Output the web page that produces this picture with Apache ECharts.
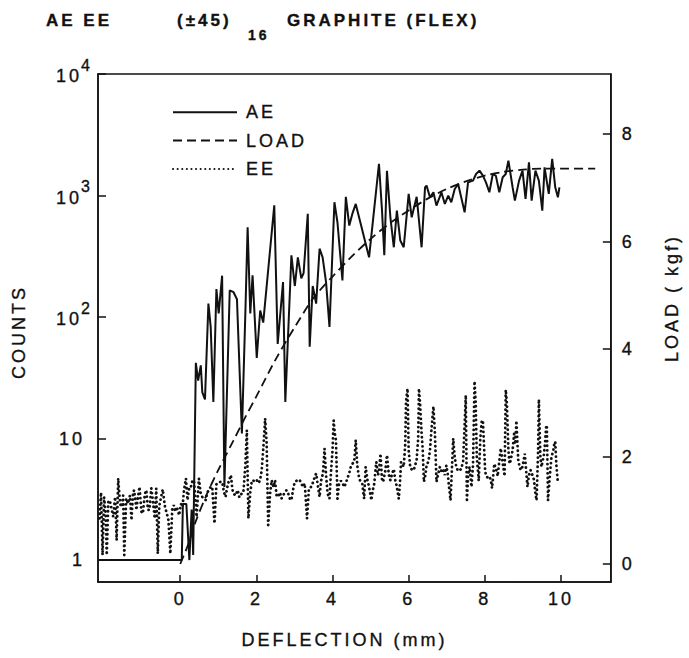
<!DOCTYPE html>
<html>
<head>
<meta charset="utf-8">
<title>AE EE (±45)16 GRAPHITE (FLEX)</title>
<script src="https://cdn.jsdelivr.net/npm/echarts@6/dist/echarts.min.js"></script>
<style>
  html, body { margin: 0; padding: 0; background: #fff; }
  #main { width: 689px; height: 658px; }
  /* the old plot lettering is widely spaced */
  #main text { letter-spacing: 3px; }
</style>
</head>
<body>
<div id="main"></div>
<script>
// deflection (mm) , counts -- acoustic emission
var aePoints = [
  [-2.16, 1], [-1.0, 1], [0.04, 1], [0.07, 2.9], [0.16, 2.9], [0.24, 1], [0.30, 2.6], [0.34, 1.1],
  [0.41, 42], [0.47, 30], [0.54, 40], [0.58, 24], [0.65, 21], [0.74, 129], [0.80, 83], [0.87, 20],
  [0.95, 170], [1.01, 107], [1.10, 219], [1.16, 4], [1.30, 166], [1.40, 160], [1.49, 140], [1.62, 11],
  [1.71, 107], [1.77, 549], [1.84, 107], [1.90, 220], [2.01, 46], [2.10, 113], [2.18, 90], [2.47, 830],
  [2.56, 60], [2.70, 194], [2.76, 20], [2.92, 322], [3.01, 180], [3.09, 310], [3.18, 208], [3.24, 230],
  [3.35, 708], [3.40, 57], [3.48, 180], [3.57, 129], [3.66, 365], [3.74, 310], [3.83, 194], [3.92, 83],
  [4.05, 880], [4.13, 600], [4.26, 200], [4.35, 975], [4.44, 566], [4.52, 706], [4.61, 853], [4.74, 585],
  [4.96, 310], [5.22, 1820], [5.30, 751], [5.36, 322], [5.43, 1600], [5.52, 662], [5.61, 375], [5.69, 751],
  [5.78, 426], [5.87, 375], [6.00, 1030], [6.08, 662], [6.21, 975], [6.34, 375], [6.43, 1167], [6.47, 1206],
  [6.56, 967], [6.65, 1063], [6.73, 826], [6.86, 1063], [6.95, 853], [7.04, 998], [7.12, 880], [7.21, 1132],
  [7.30, 1245], [7.47, 728], [7.56, 1284], [7.69, 1325], [7.77, 1503], [7.86, 1602], [7.95, 1458], [8.03, 1284],
  [8.12, 1063], [8.21, 1503], [8.29, 1458], [8.38, 1063], [8.47, 1413], [8.55, 1503], [8.62, 1936], [8.73, 1169],
  [8.79, 908], [8.90, 1325], [8.99, 1602], [9.07, 937], [9.16, 1875], [9.23, 908], [9.33, 1602], [9.42, 1325],
  [9.51, 751], [9.57, 1706], [9.68, 1030], [9.77, 2000], [9.85, 1169], [9.92, 967], [9.96, 1169]
];

// deflection (mm) , load (kgf)
var loadPoints = [
  [0, 0], [0.2, 0.35], [0.4, 0.78], [0.7, 1.3], [1.0, 1.75], [1.4, 2.3], [1.7, 2.72], [2.0, 3.12],
  [2.5, 3.8], [3.0, 4.4], [3.5, 4.95], [4.0, 5.35], [4.5, 5.72], [5.0, 6.05], [5.5, 6.34], [6.0, 6.58],
  [6.5, 6.8], [7.0, 6.98], [7.5, 7.12], [8.0, 7.23], [8.5, 7.3], [9.0, 7.34], [9.5, 7.36], [10.0, 7.36],
  [10.9, 7.36]
];

// deflection (mm) , counts -- exo-electron emission
var eePoints = [
  [-2.12, 2.2], [-2.08, 3.6], [-2.04, 1.1], [-2.0, 3.3], [-1.96, 2.4], [-1.93, 1.1], [-1.89, 3.0], [-1.85, 3.1],
  [-1.80, 2.6], [-1.76, 2.27], [-1.71, 3.3], [-1.67, 1.46], [-1.63, 4.7], [-1.58, 2.9], [-1.54, 2.74], [-1.50, 3.4],
  [-1.47, 1.1], [-1.42, 3.2], [-1.37, 2.92], [-1.32, 3.4], [-1.28, 2.13], [-1.24, 3.6], [-1.21, 3.76], [-1.15, 2.58],
  [-1.11, 3.3], [-1.07, 4.0], [-1.02, 2.5], [-0.98, 2.42], [-0.93, 3.5], [-0.89, 3.76], [-0.85, 2.6], [-0.81, 2.58],
  [-0.76, 3.9], [-0.72, 3.11], [-0.67, 2.2], [-0.63, 3.88], [-0.59, 1.13], [-0.55, 2.8], [-0.52, 3.11], [-0.46, 3.82],
  [-0.40, 2.74], [-0.35, 2.4], [-0.31, 2.13], [-0.26, 1.13], [-0.21, 2.6], [-0.17, 2.83], [-0.13, 2.5], [-0.09, 2.74],
  [-0.03, 2.34], [0.02, 2.9], [0.06, 2.74], [0.10, 3.8], [0.15, 4.69], [0.19, 3.11], [0.24, 4.0], [0.28, 4.0],
  [0.32, 4.5], [0.36, 4.54], [0.43, 2.27], [0.49, 4.69], [0.54, 3.5], [0.58, 3.31], [0.63, 3.2], [0.67, 3.11],
  [0.71, 3.6], [0.75, 3.76], [0.80, 4.0], [0.84, 4.0], [0.90, 2.0], [0.95, 4.2], [1.01, 4.27], [1.05, 4.4],
  [1.10, 4.4], [1.15, 3.6], [1.19, 3.31], [1.23, 3.9], [1.27, 4.4], [1.33, 5.0], [1.37, 3.8], [1.40, 3.53],
  [1.45, 3.4], [1.51, 3.76], [1.55, 3.3], [1.58, 3.31], [1.62, 3.6], [1.66, 3.64], [1.71, 6.0], [1.75, 11.7],
  [1.79, 2.2], [1.84, 3.6], [1.88, 4.5], [1.91, 4.54], [1.96, 4.4], [2.01, 4.54], [2.06, 4.3], [2.10, 4.6],
  [2.14, 5.49], [2.19, 9.0], [2.23, 14.6], [2.27, 9.1], [2.31, 1.94], [2.36, 3.5], [2.40, 4.54], [2.45, 4.0],
  [2.49, 4.54], [2.53, 3.4], [2.57, 3.31], [2.62, 3.6], [2.66, 3.21], [2.70, 3.4], [2.75, 3.6], [2.79, 3.76],
  [2.84, 3.5], [2.88, 3.2], [2.92, 3.11], [2.97, 3.9], [3.01, 4.4], [3.06, 4.5], [3.10, 4.6], [3.14, 4.54],
  [3.19, 4.2], [3.23, 4.0], [3.27, 4.27], [3.33, 2.2], [3.38, 3.9], [3.44, 4.0], [3.48, 4.3], [3.53, 4.8],
  [3.57, 5.15], [3.61, 4.2], [3.66, 3.31], [3.70, 4.5], [3.75, 5.2], [3.79, 8.27], [3.83, 5.0], [3.87, 3.53],
  [3.92, 3.2], [3.96, 5.3], [4.00, 8.0], [4.03, 14.1], [4.06, 11.0], [4.09, 9.7], [4.13, 3.2], [4.17, 4.2],
  [4.22, 4.5], [4.26, 4.3], [4.31, 4.0], [4.35, 4.3], [4.39, 4.69], [4.44, 5.2], [4.48, 5.85], [4.52, 6.2],
  [4.57, 6.42], [4.61, 9.7], [4.65, 6.0], [4.70, 4.69], [4.74, 4.4], [4.78, 4.27], [4.83, 3.2], [4.87, 5.85],
  [4.92, 4.5], [4.96, 4.0], [5.02, 3.11], [5.06, 3.8], [5.09, 4.1], [5.15, 6.42], [5.19, 5.0], [5.22, 5.3],
  [5.26, 7.5], [5.30, 4.6], [5.33, 4.4], [5.39, 5.5], [5.43, 7.3], [5.48, 5.0], [5.52, 4.54], [5.57, 5.2],
  [5.61, 5.6], [5.65, 4.5], [5.69, 4.0], [5.74, 3.2], [5.77, 4.2], [5.80, 6.42], [5.87, 5.85], [5.91, 9.0],
  [5.93, 20], [5.97, 25.8], [6.00, 8.0], [6.04, 5.85], [6.09, 5.5], [6.13, 5.5], [6.17, 6.0], [6.21, 6.7],
  [6.25, 10], [6.27, 25.8], [6.30, 19.4], [6.34, 11], [6.37, 8.0], [6.40, 4.4], [6.44, 5.0], [6.47, 6.0],
  [6.52, 6.5], [6.56, 8.0], [6.60, 12], [6.65, 18.4], [6.69, 11], [6.73, 4.4], [6.77, 5.0], [6.82, 5.85],
  [6.87, 5.3], [6.91, 5.5], [6.95, 5.0], [6.99, 6.0], [7.03, 5.0], [7.06, 4.0], [7.10, 3.1], [7.14, 6.0],
  [7.17, 10], [7.21, 7.0], [7.25, 5.85], [7.30, 5.4], [7.34, 5.5], [7.38, 5.6], [7.43, 6.5], [7.47, 13],
  [7.50, 22.7], [7.53, 3.0], [7.56, 5.0], [7.60, 5.85], [7.65, 4.0], [7.69, 6.0], [7.73, 29.6], [7.76, 20],
  [7.79, 7.0], [7.84, 4.5], [7.88, 9.7], [7.92, 14], [7.95, 14.1], [8.01, 5.3], [8.06, 4.8], [8.12, 4.9],
  [8.16, 4.5], [8.19, 3.9], [8.25, 6.2], [8.30, 5.5], [8.34, 4.9], [8.38, 6.5], [8.42, 8.3], [8.48, 6.0],
  [8.52, 4.9], [8.55, 25.2], [8.58, 19.4], [8.62, 8.0], [8.65, 6.2], [8.68, 6.6], [8.73, 8.0], [8.77, 11],
  [8.80, 9.0], [8.83, 14], [8.88, 6.5], [8.94, 5.5], [8.99, 5.85], [9.05, 7.5], [9.12, 4.0], [9.16, 5.0],
  [9.20, 5.5], [9.25, 5.0], [9.29, 4.6], [9.33, 3.5], [9.36, 3.1], [9.40, 8.0], [9.42, 21], [9.46, 7.0],
  [9.49, 5.85], [9.55, 7.3], [9.58, 9.0], [9.61, 12.4], [9.63, 12.9], [9.66, 3.1], [9.71, 5.0], [9.75, 7.0],
  [9.80, 8.0], [9.83, 9.3], [9.85, 9.4], [9.88, 6.0], [9.92, 4.27]
];

var xTicks = [0, 2, 4, 6, 8, 10];
var countTicks = [1, 10, 100, 1000, 10000];
var loadTicks = [0, 2, 4, 6, 8];

var FONT = "'Liberation Sans', Arial, sans-serif";
var INK = '#111';

// slightly heavier lettering, like the printed original
function txt(size, extra) {
  var s = { fontFamily: FONT, fontSize: size, color: INK, textBorderColor: INK, textBorderWidth: 0.35 };
  for (var k in extra) s[k] = extra[k];
  return s;
}

var chart = echarts.init(document.getElementById('main'), null, { renderer: 'svg' });

var option = {
  animation: false,
  backgroundColor: '#fff',
  textStyle: { fontFamily: FONT, color: INK },
  title: [
    { text: 'AE EE', left: 46, top: 12, padding: 0, textStyle: txt(17) },
    { text: '(±45)', left: 177, top: 12, padding: 0, textStyle: txt(17) },
    { text: '16', left: 248, top: 28, padding: 0, textStyle: txt(14) },
    { text: 'GRAPHITE (FLEX)', left: 287, top: 12, padding: 0, textStyle: txt(17) }
  ],
  legend: {
    orient: 'vertical',
    left: 172,
    top: 103,
    padding: 0,
    itemWidth: 64,
    itemHeight: 14,
    itemGap: 10,
    itemStyle: { opacity: 0 },
    textStyle: txt(18, { padding: [0, 0, 0, 4] }),
    data: ['AE', 'LOAD', 'EE']
  },
  grid: {
    left: 98, right: 73, top: 74, bottom: 76,
    show: true, borderColor: INK, borderWidth: 1.5, backgroundColor: 'transparent'
  },
  xAxis: {
    type: 'value',
    min: -2.16,
    max: 11.31,
    axisLine: { onZero: false, lineStyle: { color: INK, width: 1.5 } },
    axisTick: { inside: true, length: 7, customValues: xTicks, lineStyle: { color: INK, width: 1.5 } },
    axisLabel: txt(18, { customValues: xTicks, margin: 8 }),
    splitLine: { show: false },
    name: 'DEFLECTION (mm)',
    nameLocation: 'middle',
    nameGap: 49,
    nameTextStyle: txt(18, { padding: [0, 20, 0, 0] })
  },
  yAxis: [
    {
      type: 'log',
      logBase: 10,
      min: 0.66,
      max: 10000,
      position: 'left',
      axisLine: { show: true, onZero: false, lineStyle: { color: INK, width: 1.5 } },
      axisTick: { show: true, inside: true, length: 8, customValues: countTicks, lineStyle: { color: INK, width: 1.5 } },
      minorTick: { show: false },
      splitLine: { show: false },
      axisLabel: {
        customValues: countTicks,
        margin: 5,
        formatter: function (v) {
          var p = Math.round(Math.log10(v));
          if (p === 0) return '{p|1}';
          if (p === 1) return '{p|10}';
          // exponent sits up and to the right of the "10"
          return '{s|' + p + '}\n{b|10}';
        },
        rich: {
          p: txt(18, { padding: [0, 8, 0, 0] }),
          b: txt(18, { lineHeight: 18, padding: [0, 11, 0, 0] }),
          s: txt(16, { lineHeight: 4 })
        }
      },
      name: 'COUNTS',
      nameLocation: 'middle',
      nameGap: 70,
      nameTextStyle: txt(18, { padding: [0, 8, 0, 0] })
    },
    {
      type: 'value',
      min: -0.335,
      max: 9.12,
      position: 'right',
      axisLine: { show: true, onZero: false, lineStyle: { color: INK, width: 1.5 } },
      axisTick: { show: true, inside: true, length: 8, customValues: loadTicks, lineStyle: { color: INK, width: 1.5 } },
      splitLine: { show: false },
      axisLabel: txt(18, { customValues: loadTicks, margin: 11 }),
      name: 'LOAD ( kgf)',
      nameLocation: 'middle',
      nameGap: 52,
      nameTextStyle: txt(18, { padding: [0, 0, 0, 60] })
    }
  ],
  series: [
    {
      name: 'AE',
      type: 'line',
      yAxisIndex: 0,
      data: aePoints,
      symbol: 'none',
      z: 4,
      lineStyle: { color: INK, width: 2 },
      itemStyle: { color: INK }
    },
    {
      name: 'LOAD',
      type: 'line',
      yAxisIndex: 1,
      data: loadPoints,
      symbol: 'none',
      smooth: 0.3,
      z: 3,
      lineStyle: { color: INK, width: 1.8, type: [9, 5] },
      itemStyle: { color: INK }
    },
    {
      name: 'EE',
      type: 'line',
      yAxisIndex: 0,
      data: eePoints,
      symbol: 'none',
      z: 2,
      lineStyle: { color: INK, width: 2.8, type: [0.1, 4.5], cap: 'round' },
      itemStyle: { color: INK }
    }
  ]
};

chart.setOption(option);
</script>
</body>
</html>
